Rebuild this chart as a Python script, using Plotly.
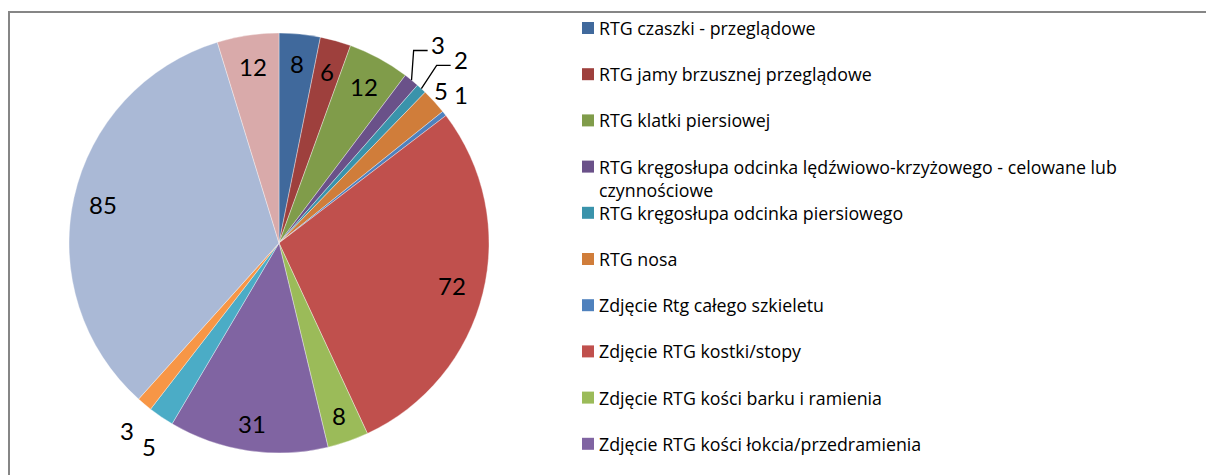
import math
import plotly.graph_objects as go

W, H = 1206, 475

categories = [
    "RTG czaszki - przeglądowe",
    "RTG jamy brzusznej przeglądowe",
    "RTG klatki piersiowej",
    "RTG kręgosłupa odcinka lędźwiowo-krzyżowego - celowane lub czynnościowe",
    "RTG kręgosłupa odcinka piersiowego",
    "RTG nosa",
    "Zdjęcie Rtg całego szkieletu",
    "Zdjęcie RTG kostki/stopy",
    "Zdjęcie RTG kości barku i ramienia",
    "Zdjęcie RTG kości łokcia/przedramienia",
    "Zdjęcie RTG kości nadgarstka/dłoni",
    "Zdjęcie RTG kości udowej/podudzia",
    "Zdjęcie RTG stawu kolanowego",
    "Zdjęcie RTG zatok",
]
counts = [8, 6, 12, 3, 2, 5, 1, 72, 8, 31, 5, 3, 85, 12]

# legend shows only the first entries (the rest fall outside the chart box)
legend_shown = 10
legend_lines = {3: ["RTG kręgosłupa odcinka lędźwiowo-krzyżowego - celowane lub",
                    "czynnościowe"]}

colors = ["#40699C", "#9E403D", "#809C4A", "#6A5189", "#3A93AB", "#D07D3A",
          "#4F81BD", "#C0504D", "#9BBB59", "#8064A2", "#4BACC6", "#F79646",
          "#AAB9D6", "#D9AAAA"]

# label distance from centre (fraction of radius) and small angular nudge (degrees)
label_r = [0.86, 0.85, 0.85, 1.21, 1.23, 1.06, 1.12, 0.85, 0.87, 0.87, 1.15, 1.15, 0.86, 0.85]
label_shift = [0, 0, 0, -0.5, 2.0, -1.0, -1.1, 0, 0, 0, -1.6, -0.8, 0, 0]
leader = [False, False, False, True, True, False, False, False, False, False, False, False, False, False]

LABEL_FONT = "Lato, 'Open Sans', sans-serif"
LEGEND_FONT = "'Open Sans', Lato, sans-serif"
CX, CY, R = 279, 243, 210


def px(x):
    return x / W


def py(y):
    return 1 - y / H


fig = go.Figure()
fig.add_trace(go.Pie(
    labels=categories, values=counts, sort=False, direction="clockwise", rotation=0,
    marker=dict(colors=colors, line=dict(color="rgba(255,255,255,0.6)", width=0.6)),
    textinfo="none", hoverinfo="label+value", showlegend=False,
    domain=dict(x=[px(CX - R), px(CX + R)], y=[py(CY + R), py(CY - R)]),
))

annotations = []
shapes = []

# outer frame
shapes.append(dict(type="rect", xref="paper", yref="paper",
                   x0=px(9), y0=py(H + 20), x1=px(W + 20), y1=py(12),
                   line=dict(color="#868686", width=2), fillcolor="rgba(0,0,0,0)"))

# data labels
total = sum(counts)
acc = 0.0
for i, v in enumerate(counts):
    mid = (acc + v / 2) / total * 2 * math.pi
    acc += v
    ang = mid + math.radians(label_shift[i])
    r = label_r[i] * R
    lx = CX + r * math.sin(ang)
    ly = CY - r * math.cos(ang)
    annotations.append(dict(x=px(lx), y=py(ly), xref="paper", yref="paper",
                            text=str(v), showarrow=False, xanchor="center", yanchor="middle",
                            font=dict(family=LABEL_FONT, size=24, color="#000000")))
    if leader[i]:
        ex = CX + R * math.sin(mid)
        ey = CY - R * math.cos(mid)
        hy = ly + 6
        path = "M {} {} L {} {} L {} {}".format(px(ex), py(ey), px(lx - 24), py(hy),
                                               px(lx - 10), py(hy))
        shapes.append(dict(type="path", xref="paper", yref="paper", path=path,
                           line=dict(color="#000000", width=1.3)))

# legend
LX, LY0, LSTEP = 582, 28, 46.2
for i in range(legend_shown):
    yc = LY0 + i * LSTEP
    shapes.append(dict(type="rect", xref="paper", yref="paper",
                       x0=px(LX), x1=px(LX + 12), y0=py(yc + 6), y1=py(yc - 6),
                       line=dict(width=0), fillcolor=colors[i]))
    lines = legend_lines.get(i, [categories[i]])
    for k, t in enumerate(lines):
        annotations.append(dict(x=px(LX + 15), y=py(yc + k * 23), xref="paper", yref="paper",
                                text=t, showarrow=False, xanchor="left", yanchor="middle",
                                font=dict(family=LEGEND_FONT, size=17.8, color="#000000")))

fig.update_layout(
    width=W, height=H,
    margin=dict(l=0, r=0, t=0, b=0),
    paper_bgcolor="white", plot_bgcolor="white",
    annotations=annotations, shapes=shapes,
)

fig.write_html("out.html")
